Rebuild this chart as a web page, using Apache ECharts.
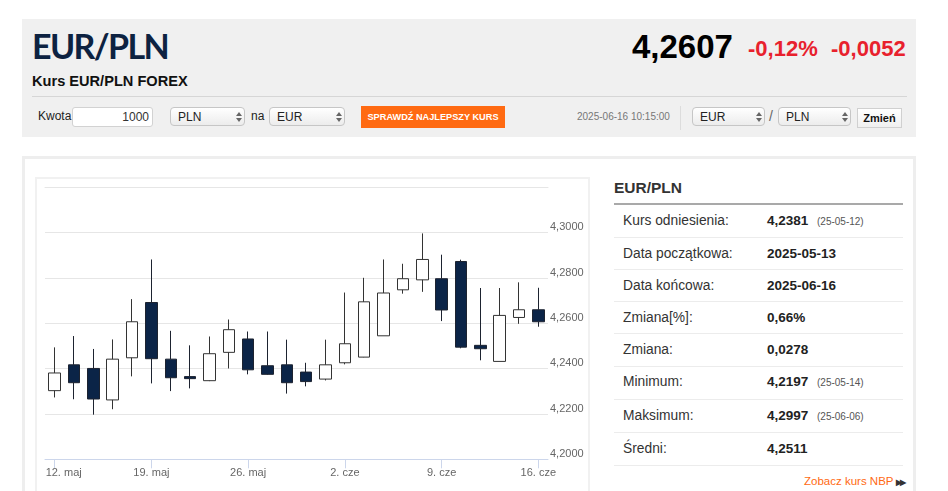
<!DOCTYPE html>
<html><head><meta charset="utf-8">
<script src="https://cdn.jsdelivr.net/npm/echarts@6/dist/echarts.min.js"></script>
<style>
html,body{margin:0;padding:0;background:#fff;}
body{width:948px;height:491px;overflow:hidden;position:relative;font-family:"Liberation Sans",Arial,sans-serif;color:#333;}
.abs{position:absolute;}
#hdr{left:22px;top:19px;width:894px;height:118px;background:#f0f0f0;}
.title{left:32px;top:24px;font-family:Lato,"Liberation Sans",sans-serif;font-weight:700;font-size:34px;letter-spacing:-1.6px;color:#0d2241;line-height:44px;white-space:nowrap;}
.sub{left:32px;top:72px;font-size:14.6px;font-weight:bold;color:#111;white-space:nowrap;line-height:18px;}
.sep{left:32px;top:96px;width:875px;height:1px;background:#d6d6d6;}
.lbl{font-size:12px;color:#222;line-height:20px;top:106px;white-space:nowrap;}
.inp{top:107px;height:18px;background:#fff;border:1px solid #d2d2d2;border-radius:3px;font-size:12px;line-height:18px;text-align:right;box-sizing:content-box;}
.sel{top:107px;height:19px;border:1px solid #c6c6c6;border-radius:4px;background:linear-gradient(#ffffff,#ececec);font-size:12px;line-height:18px;color:#222;box-sizing:border-box;}
.sel span{position:absolute;left:7px;top:0;}
.arr{position:absolute;right:5px;top:4px;width:0;height:0;}
.arr:before{content:"";position:absolute;left:-3px;top:0;border-left:3px solid transparent;border-right:3px solid transparent;border-bottom:4px solid #666;}
.arr:after{content:"";position:absolute;left:-3px;top:6px;border-left:3px solid transparent;border-right:3px solid transparent;border-top:4px solid #666;}
.btn{left:361px;top:106px;width:144px;height:22px;background:#ff6a12;color:#fff;font-size:9.2px;font-weight:bold;line-height:22px;text-align:center;white-space:nowrap;}
.date{left:577px;top:110px;font-size:10px;color:#777;white-space:nowrap;line-height:13px;}
.vdiv{left:680px;top:106px;width:1px;height:24px;background:#dcdcdc;}
.zm{left:857px;top:108px;width:45px;height:20px;box-sizing:border-box;border:1px solid #d0d0d0;background:linear-gradient(#ffffff,#f0f0f0);font-size:11px;font-weight:bold;line-height:18px;text-align:center;color:#111;}
.price{top:27px;font-size:33px;font-weight:bold;color:#000;white-space:nowrap;line-height:40px;}
.chg{top:35px;font-size:22px;font-weight:bold;color:#e8212d;white-space:nowrap;line-height:28px;}
#box{left:22px;top:156px;width:888px;height:400px;border:3px solid #eeeeee;}
#panel{left:35px;top:177px;width:555px;height:400px;border:2px solid #f1f1f1;box-sizing:border-box;}
#chart{left:36px;top:178px;width:554px;height:313px;}
.stitle{left:614px;top:178px;font-size:15.5px;font-weight:bold;color:#333;line-height:20px;}
.sline{left:614px;top:203px;width:289px;height:2px;background:#a9a9a9;}
.rl{left:623px;font-size:13.8px;color:#333;white-space:nowrap;line-height:18px;}
.rv{left:767px;font-size:13.5px;font-weight:bold;color:#222;white-space:nowrap;line-height:18px;}
.rd{left:817px;font-size:10px;color:#555;white-space:nowrap;line-height:18px;}
.rsep{left:614px;width:289px;height:1px;background:#ececec;}
.nbp{left:804px;top:473px;font-size:11.5px;color:#ff6a12;white-space:nowrap;line-height:16px;}
.nbp b{color:#333;font-size:8px;letter-spacing:-2px;margin-left:3px;}
</style></head>
<body>
<div id="hdr" class="abs"></div>
<div class="abs title">EUR/PLN</div>
<div class="abs sub">Kurs EUR/PLN FOREX</div>
<div class="abs sep"></div>
<div class="abs price" style="left:632px;">4,2607</div>
<div class="abs chg" style="left:748px;">-0,12%</div>
<div class="abs chg" style="left:831px;">-0,0052</div>

<div class="abs lbl" style="left:38px;">Kwota</div>
<div class="abs inp" style="left:72px;width:76px;padding-right:3px;">1000</div>
<div class="abs sel" style="left:170px;width:75px;"><span>PLN</span><i class="arr"></i></div>
<div class="abs lbl" style="left:251px;">na</div>
<div class="abs sel" style="left:269px;width:76px;"><span>EUR</span><i class="arr"></i></div>
<div class="abs btn">SPRAWDŹ NAJLEPSZY KURS</div>
<div class="abs date">2025-06-16 10:15:00</div>
<div class="abs vdiv"></div>
<div class="abs sel" style="left:692px;width:73px;"><span>EUR</span><i class="arr"></i></div>
<div class="abs lbl" style="left:769px;font-size:14px;color:#666;">/</div>
<div class="abs sel" style="left:778px;width:73px;"><span>PLN</span><i class="arr"></i></div>
<div class="abs zm">Zmień</div>

<div id="box" class="abs"></div>
<div id="panel" class="abs"></div>
<div id="chart" class="abs"></div>

<div class="abs stitle">EUR/PLN</div>
<div class="abs sline"></div>
<div id="rows"></div>
<div class="abs nbp">Zobacz kurs NBP<b>▶▶</b></div>

<script>
// ---- chart data ----
var dates = ['12. maj','13. maj','14. maj','15. maj','16. maj',
             '19. maj','20. maj','21. maj','22. maj','23. maj',
             '26. maj','27. maj','28. maj','29. maj','30. maj',
             '2. cze','3. cze','4. cze','5. cze','6. cze',
             '9. cze','10. cze','11. cze','12. cze','13. cze',
             '16. cze'];
var openV  = [4.2303,4.2417,4.2401,4.2262,4.2448, 4.2692,4.2442,4.2365,4.2347,4.2472,
              4.2531,4.2413,4.2417,4.2385,4.2354, 4.2426,4.2451,4.2545,4.2748,4.2792,
              4.2797,4.2873,4.2503,4.2432,4.2626, 4.2660];
var closeV = [4.2381,4.2338,4.2266,4.2442,4.2607, 4.2444,4.2360,4.2356,4.2466,4.2572,
              4.2395,4.2375,4.2338,4.2343,4.2417, 4.2510,4.2695,4.2734,4.2797,4.2882,
              4.2659,4.2495,4.2488,4.2635,4.2660, 4.2607];
var lowV   = [4.2273,4.2265,4.2197,4.2221,4.2366, 4.2335,4.2301,4.2313,4.2345,4.2401,
              4.2375,4.2373,4.2290,4.2322,4.2348, 4.2419,4.2450,4.2545,4.2731,4.2739,
              4.2610,4.2490,4.2437,4.2432,4.2598, 4.2585];
var highV  = [4.2494,4.2544,4.2487,4.2529,4.2707, 4.2882,4.2567,4.2503,4.2542,4.2617,
              4.2564,4.2564,4.2528,4.2426,4.2528, 4.2736,4.2801,4.2882,4.2863,4.2997,
              4.2903,4.2881,4.2756,4.2756,4.2781, 4.2757];
var yMin = 4.20, yMax = 4.32, yStep = 0.02;

// ---- side table data ----
var statLabels = ['Kurs odniesienia:','Data początkowa:','Data końcowa:','Zmiana[%]:','Zmiana:','Minimum:','Maksimum:','Średni:'];
var statValues = ['4,2381','2025-05-13','2025-06-16','0,66%','0,0278','4,2197','4,2997','4,2511'];
var statDates  = ['(25-05-12)','','','','','(25-05-14)','(25-06-06)',''];

(function(){
  var rowsEl = document.getElementById('rows');
  var centers = [220.5,253.5,285.5,317.5,349.5,382,416,448.5];
  var seps = [237,269,301,333,366,399,432,465];
  var html = '';
  for (var i=0;i<statLabels.length;i++){
    var t = centers[i]-9;
    html += '<div class="abs rl" style="top:'+t+'px">'+statLabels[i]+'</div>';
    html += '<div class="abs rv" style="top:'+t+'px">'+statValues[i]+'</div>';
    if (statDates[i]) html += '<div class="abs rd" style="top:'+(t+1)+'px">'+statDates[i]+'</div>';
    html += '<div class="abs rsep" style="top:'+seps[i]+'px"></div>';
  }
  rowsEl.innerHTML = html;
})();

var ohlc = dates.map(function(d,i){ return [openV[i], closeV[i], lowV[i], highV[i]]; });

var chart = echarts.init(document.getElementById('chart'), null, {renderer:'canvas'});
chart.setOption({
  animation:false,
  grid:{left:9, top:9.4, width:503, height:271.9},
  xAxis:[{
    type:'category', data:dates, boundaryGap:true,
    axisLine:{show:true, lineStyle:{color:'#ccd6eb', width:1}},
    axisTick:{show:true, alignWithLabel:true, length:9, interval:function(i){return i%5===0;}, lineStyle:{color:'#ccd6eb'}},
    axisLabel:{
      interval:function(i){return i%5===0;},
      color:'#666', fontSize:11, fontFamily:'Liberation Sans, Arial, sans-serif', margin:8,
      formatter:function(v,i){ return i===0 ? '{f|'+v+'}' : v; },
      rich:{f:{padding:[0,0,0,18], color:'#666', fontSize:11, fontFamily:'Liberation Sans, Arial, sans-serif'}}
    },
    splitLine:{show:false}
  },{
    type:'category', data:dates, position:'top',
    axisLine:{show:true, lineStyle:{color:'#e6e6e6', width:1}},
    axisTick:{show:false}, axisLabel:{show:false}, splitLine:{show:false}
  }],
  yAxis:{
    type:'value', position:'right', min:yMin, max:yMax, interval:yStep,
    axisLine:{show:false}, axisTick:{show:false},
    splitLine:{lineStyle:{color:'#e6e6e6', width:1}},
    axisLabel:{
      showMaxLabel:false, inside:false, margin:2, verticalAlign:'bottom',
      color:'#666', fontSize:11, fontFamily:'Liberation Sans, Arial, sans-serif',
      formatter:function(v){ return v.toFixed(4).replace('.', ','); }
    }
  },
  series:[{
    type:'candlestick', data:ohlc, barWidth:12,
    itemStyle:{color:'#ffffff', color0:'#0b2447', borderColor:'#333333', borderColor0:'#1d2330', borderWidth:1}
  }]
});
</script>
</body></html>
